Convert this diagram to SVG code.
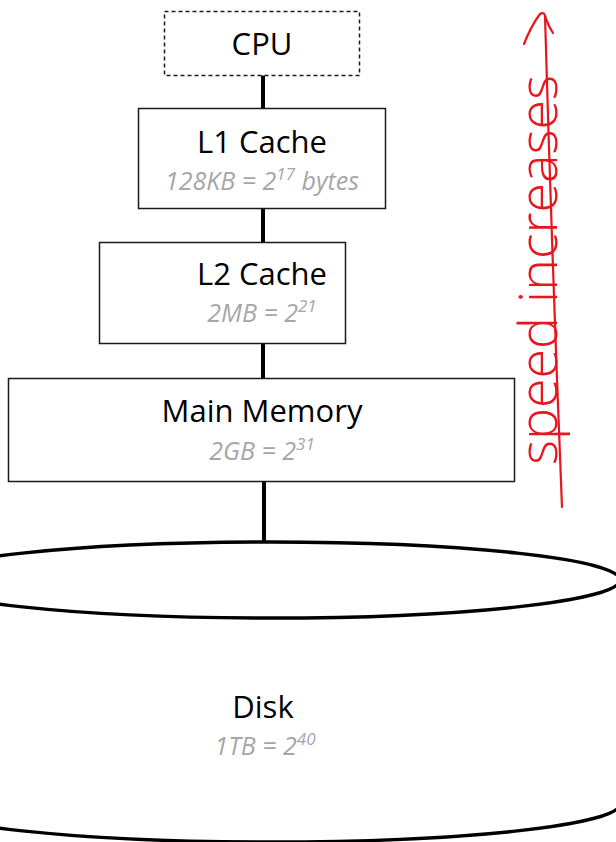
<svg xmlns="http://www.w3.org/2000/svg" width="616" height="842" viewBox="0 0 616 842">
  <style>
    .box { fill: #ffffff; stroke: #1a1a1a; stroke-width: 1.5; }
    .dash { stroke-dasharray: 4 3; }
    .title { font-family: "Open Sans", "Liberation Sans", sans-serif; font-size: 31px; fill: #000000; text-anchor: middle; }
    .sub { font-family: "Open Sans", "Liberation Sans", sans-serif; font-size: 25px; font-style: italic; fill: #a6a6a6; text-anchor: middle; }
    .link { stroke: #000000; stroke-width: 4; fill: none; }
    .disk { fill: #ffffff; stroke: #000000; stroke-width: 3.5; }
    .ink { fill: none; stroke: #e8141e; stroke-width: 2.2; stroke-linecap: round; stroke-linejoin: round; }
    .inktext { font-family: "Open Sans", "DejaVu Sans", sans-serif; font-weight: 300; font-size: 54px; fill: #e8141e; }
  </style>

  <rect width="616" height="842" fill="#ffffff"/>

  <!-- connectors between levels -->
  <g id="connectors">
    <line class="link" x1="263" y1="75" x2="263" y2="108"/>
    <line class="link" x1="263" y1="208" x2="263" y2="242"/>
    <line class="link" x1="263" y1="344" x2="263" y2="378"/>
    <line class="link" x1="264" y1="481" x2="264" y2="543"/>
  </g>

  <!-- disk: cylinder wider than the page -->
  <g id="disk">
    <path class="disk" d="M -80 580 L -80 804 A 350 38 0 0 0 620 804 L 620 580 Z"/>
    <ellipse class="disk" cx="270" cy="580" rx="350" ry="38"/>
    <text class="title" x="263" y="718">Disk</text>
    <text class="sub" x="265" y="755">1TB = 2<tspan font-size="17" dy="-10">40</tspan></text>
  </g>

  <g id="cpu">
    <rect class="box dash" x="164.5" y="11.5" width="195" height="64"/>
    <text class="title" x="262" y="55">CPU</text>
  </g>

  <g id="l1">
    <rect class="box" x="138.5" y="108.5" width="247" height="100"/>
    <text class="title" x="262" y="153">L1 Cache</text>
    <text class="sub" x="262" y="190">128KB = 2<tspan font-size="17" dy="-10">17</tspan><tspan dy="10"> bytes</tspan></text>
  </g>

  <g id="l2">
    <rect class="box" x="99.5" y="242.5" width="246" height="101"/>
    <text class="title" x="262" y="285">L2 Cache</text>
    <text class="sub" x="262" y="322">2MB = 2<tspan font-size="17" dy="-10">21</tspan></text>
  </g>

  <g id="main-memory">
    <rect class="box" x="8.5" y="378.5" width="506" height="103"/>
    <text class="title" x="262" y="422">Main Memory</text>
    <text class="sub" x="262" y="460">2GB = 2<tspan font-size="17" dy="-10">31</tspan></text>
  </g>

  <!-- red hand-drawn note: speed arrow -->
  <g id="speed-note">
    <path class="ink" d="M 562 507 Q 552 260 545 16"/>
    <path class="ink" d="M 524 44 Q 531 26 540 14 Q 545 11 546 19 Q 549 27 553 33"/>
    <text class="inktext" transform="translate(557,465) rotate(-90)" x="0" y="0" textLength="390" lengthAdjust="spacingAndGlyphs">speed increases</text>
  </g>
</svg>
